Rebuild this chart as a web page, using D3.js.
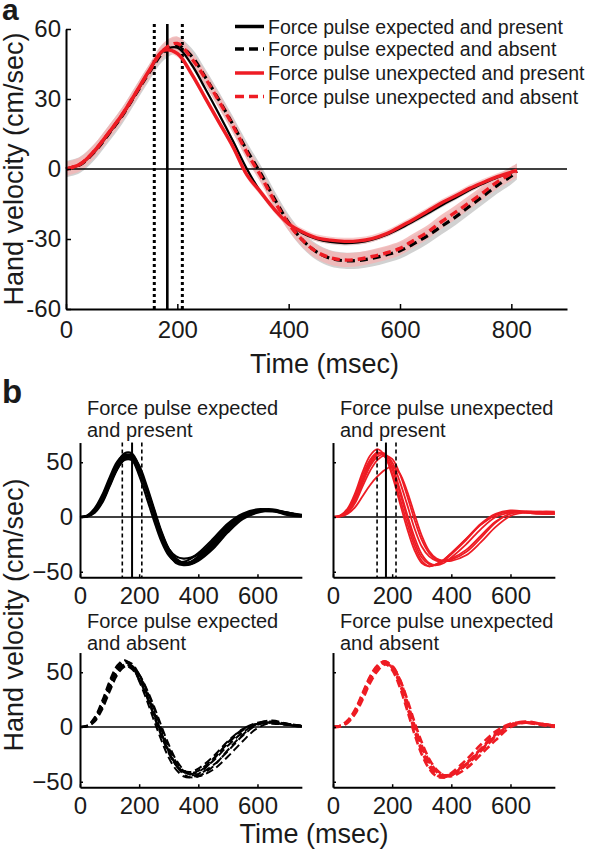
<!DOCTYPE html>
<html><head><meta charset="utf-8">
<script src="https://cdn.jsdelivr.net/npm/d3@7"></script>
<style>
body{margin:0;background:#fff}
svg{display:block}
text{font-family:"Liberation Sans",Arial,Helvetica,sans-serif;fill:#1a1a1a}
</style>
</head><body>
<svg id="chart" width="594" height="852"></svg>
<script>
// ---------- DATA: panel a (mean hand velocity, cm/sec) ----------
const timeA = [0,25,50,75,100,125,150,175,200,225,250,275,300,325,350,375,400,425,450,475,500,525,550,575,600,625,650,675,700,725,750,775,800,810];
const meanExpectedPresent   = [0,1.8,7,14.5,22.5,32,42,50.5,52,45,34.5,23.5,12,0,-10,-17.5,-23.5,-27.5,-30,-31.3,-31.8,-31.5,-30.3,-28.3,-25.5,-22.3,-19,-15.5,-12.3,-9,-6.2,-3.6,-1.5,-0.5];
const meanExpectedAbsent    = [0,1.8,7,14.5,22.5,32,41.5,50,53,48.5,39.5,29.5,19,8,-2,-13,-23,-30.5,-35.5,-38.3,-39.3,-39.2,-38.3,-36.8,-35,-32,-28.5,-24.5,-20.5,-16,-11.5,-7,-3,-1];
const meanUnexpectedPresent = [0,2,7.5,15,23,32.5,42.5,50.8,49.5,41,30.5,20,9.5,-2.5,-10,-17.5,-23.5,-27,-29.5,-30.5,-31,-30.8,-29.8,-27.8,-24.7,-21.5,-18,-14.5,-11.5,-8.3,-5.7,-3.3,-1.3,-0.5];
const meanUnexpectedAbsent  = [0,2,7.5,15,23,32.5,42,51,53.8,47.5,39,29,18.5,7,-3,-14,-23.5,-30.5,-35.5,-38,-39,-38.7,-37.5,-36,-34,-30.5,-27,-22.5,-18.5,-14.3,-10,-5.5,-2,-0.8];
const errorHalfWidth = [1.0, 3.5, 1.5, 3.0];   // EP, EA, UP, UA
const legendLabels = ["Force pulse expected and present","Force pulse expected and absent","Force pulse unexpected and present","Force pulse unexpected and absent"];
const pulseWindowA = [158.6, 182, 209];
const xTicksA = [0,200,400,600,800];
const yTicksA = [-60,-30,0,30,60];

// ---------- DATA: panel b (single trials) ----------
const timeB = [0,25,50,75,100,125,150,175,200,225,250,275,300,325,350,375,400,450,500,550,600,650,700,750];
const trialsExpectedPresent = [
 [0,1,6,16,32,46,55,55,43,24,3,-17,-32,-40,-42,-41,-37,-24,-9,2,6,6,3,1],
 [0,0.5,4,13,28,43,53,56,47,29,8,-13,-29,-38,-42,-42,-39,-27,-12,0,5,6,4,1],
 [0,1.5,8,20,36,50,57,53,38,18,-3,-22,-35,-41,-41,-38,-33,-20,-6,3,7,6,2,0.5],
 [0,1,5,14,29,44,52,52,42,24,4,-15,-29,-36,-38,-37,-34,-23,-9,1,5,5,3,1],
 [0,1,7,18,34,48,58,58,46,26,4,-17,-33,-42,-44,-43,-38,-25,-10,1,6,7,4,1.5],
 [0,0.5,5,15,30,45,54,54,44,26,6,-14,-30,-39,-43,-43,-40,-29,-14,-2,4,6,4,2],
 [0,1,6,17,33,47,56,56,45,25,2,-19,-34,-41,-43,-41,-36,-22,-7,2,6,6,3,1],
 [0,1,6,15,30,44,53,54,45,27,6,-15,-31,-39,-42,-42,-38,-26,-11,0,5,6,3,1]
];
const trialsUnexpectedPresent = [
 [0,1.5,8,22,41,56,62,56,38,14,-10,-30,-42,-45,-43,-39,-33,-20,-7,2,5,4,3,3],
 [0,1,5,16,33,48,57,58,47,26,3,-18,-34,-42,-44,-42,-37,-25,-11,0,4,5,4,3],
 [0,0.5,4,13,28,42,52,56,53,40,20,-2,-21,-33,-39,-40,-39,-32,-19,-5,3,5,5,4],
 [0,0.5,3,9,19,29,37,43,46,40,24,3,-17,-31,-38,-40,-40,-35,-23,-9,1,4,5,5],
 [0,1,6,18,35,50,58,56,44,23,0,-22,-37,-43,-44,-40,-34,-21,-7,2,5,4,3,3],
 [0,1,5,15,31,46,55,57,50,33,12,-10,-27,-36,-40,-40,-38,-30,-17,-4,3,5,4,3],
 [0,1,7,20,38,52,59,55,40,18,-5,-26,-40,-45,-43,-39,-33,-20,-6,3,6,5,3,3]
];
const trialsExpectedAbsent = [
 [0,1,7,21,39,53,59,56,45,30,12,-6,-22,-34,-41,-43,-41,-31,-17,-5,3,4,2,0],
 [0,1,6,18,35,50,57,56,48,34,17,-2,-19,-32,-40,-44,-43,-35,-22,-8,2,4,2,1],
 [0,1.5,9,24,42,56,61,56,42,25,6,-12,-28,-39,-45,-46,-43,-30,-14,-2,4,5,3,1],
 [0,0.5,5,16,32,47,55,55,48,35,19,1,-16,-30,-39,-44,-45,-39,-27,-13,-1,4,3,1],
 [0,1,7,20,37,51,57,54,44,29,11,-7,-23,-35,-41,-42,-40,-29,-15,-3,3,3,2,0],
 [0,1,8,22,40,54,60,58,48,32,14,-5,-22,-35,-43,-46,-45,-36,-21,-7,3,6,3,1],
 [0,1,6,19,36,50,56,53,43,28,10,-8,-24,-35,-40,-41,-38,-27,-13,-2,3,4,2,1]
];
const trialsUnexpectedAbsent = [
 [0,1,5,13,27,42,54,59,55,42,22,1,-18,-32,-41,-45,-44,-35,-22,-9,2,4,3,1],
 [0,1,6,15,30,45,56,60,54,40,19,-3,-22,-36,-44,-46,-43,-33,-20,-7,2,4,3,1],
 [0,0.5,4,12,25,40,51,57,55,44,26,5,-14,-29,-39,-44,-45,-38,-25,-12,0,4,3,1],
 [0,1,6,16,31,46,56,58,52,37,16,-6,-25,-38,-45,-46,-42,-30,-16,-4,3,4,2,1],
 [0,1,5,14,28,43,54,59,56,44,24,2,-17,-31,-40,-44,-43,-34,-21,-8,2,5,3,1],
 [0,1,5,14,29,44,55,60,55,41,21,-1,-20,-34,-42,-45,-44,-34,-20,-6,2,4,2,0]
];
const subTitles = [["Force pulse expected","and present"],["Force pulse unexpected","and present"],["Force pulse expected","and absent"],["Force pulse unexpected","and absent"]];
const pulseWindowB = [[143,176,209],[149,179,213]];
const xTicksB = [0,200,400,600];
const yTicksB = [-50,0,50];

// ---------- DRAWING ----------
const svg = d3.select("#chart");
const RED = "#ee1c24", BLACK = "#000";

// ===== Panel a =====
const xA = d3.scaleLinear().domain([0,900]).range([66,567]);
const yA = d3.scaleLinear().domain([-60,60]).range([309,29]);
const gA = svg.append("g");

const seriesA = [
  {v: meanExpectedPresent,   color: BLACK, dash: null,  w: 2.2, band:"#cccccc"},
  {v: meanExpectedAbsent,    color: BLACK, dash: "8,5", w: 3.2, band:"#c9c9c9"},
  {v: meanUnexpectedPresent, color: RED,   dash: null,  w: 3.4, band:"#f6c4c4"},
  {v: meanUnexpectedAbsent,  color: RED,   dash: "8,5", w: 3.4, band:"#f2b6b6"}
];
const lineA = d3.line().x((d,i)=>xA(timeA[i])).y(d=>yA(d)).curve(d3.curveCatmullRom.alpha(0.5));
seriesA.forEach((s,k)=>{
  const h = errorHalfWidth[k];
  const area = d3.area().x((d,i)=>xA(timeA[i])).y0(d=>yA(d-h)).y1(d=>yA(d+h)).curve(d3.curveCatmullRom.alpha(0.5));
  gA.append("path").attr("d",area(s.v)).attr("fill",s.band).attr("opacity",0.85);
});
gA.append("line").attr("x1",xA(0)).attr("x2",xA(900)).attr("y1",yA(0)).attr("y2",yA(0)).attr("stroke","#000").attr("stroke-width",1.6);
pulseWindowA.forEach((t,i)=>{
  gA.append("line").attr("x1",xA(t)).attr("x2",xA(t)).attr("y1",24).attr("y2",yA(-60))
    .attr("stroke","#000").attr("stroke-width", i===1?2.6:3).attr("stroke-dasharray", i===1?null:"3,3");
});
seriesA.forEach(s=>{
  gA.append("path").attr("d",lineA(s.v)).attr("fill","none").attr("stroke",s.color)
    .attr("stroke-width",s.w).attr("stroke-dasharray",s.dash);
});
const axXA = gA.append("g").attr("transform",`translate(0,${yA(-60)})`)
  .call(d3.axisBottom(xA).tickValues(xTicksA).tickSizeInner(-5).tickSizeOuter(0).tickPadding(12).tickFormat(d=>String(d)));
const axYA = gA.append("g").attr("transform",`translate(${xA(0)},0)`)
  .call(d3.axisLeft(yA).tickValues(yTicksA).tickSizeInner(-5).tickSizeOuter(0).tickPadding(5).tickFormat(d=>String(d)));
[axXA,axYA].forEach(a=>{
  a.select(".domain").attr("stroke","#000").attr("stroke-width",2);
  a.selectAll(".tick line").attr("stroke","#000").attr("stroke-width",1.5);
  a.selectAll("text").attr("font-size",24).attr("fill","#1a1a1a").attr("font-family",null);
});
gA.append("text").attr("x",(xA(0)+xA(900))/2+8).attr("y",373).attr("text-anchor","middle").attr("font-size",27).text("Time (msec)");
gA.append("text").attr("transform",`translate(23,${(yA(60)+yA(-60))/2}) rotate(-90)`).attr("text-anchor","middle").attr("font-size",27).text("Hand velocity (cm/sec)");
svg.append("text").attr("x",2).attr("y",20).attr("font-size",30).attr("font-weight","bold").attr("fill","#000").text("a");

// legend
const legRows = [26.5, 49, 73, 96.5];
seriesA.forEach((s,i)=>{
  gA.append("line").attr("x1",235).attr("x2",264).attr("y1",legRows[i]).attr("y2",legRows[i])
    .attr("stroke",s.color).attr("stroke-width",3.5).attr("stroke-dasharray", s.dash ? "9,5" : null);
  gA.append("text").attr("x",268).attr("y",legRows[i]+7).attr("font-size",19.5).text(legendLabels[i]);
});

// ===== Panel b =====
svg.append("text").attr("x",2).attr("y",403).attr("font-size",33).attr("font-weight","bold").attr("fill","#000").text("b");
const subDefs = [
  {x0:80,  zeroY:517, trials:trialsExpectedPresent,   color:BLACK, dash:null,  w:2.2, win:pulseWindowB[0], ylab:true},
  {x0:333, zeroY:517, trials:trialsUnexpectedPresent, color:RED,   dash:null,  w:1.8, win:pulseWindowB[1], ylab:false},
  {x0:80,  zeroY:727, trials:trialsExpectedAbsent,    color:BLACK, dash:"8,4", w:2.0, win:null, ylab:true},
  {x0:333, zeroY:727, trials:trialsUnexpectedAbsent,  color:RED,   dash:"8,4", w:2.6, win:null, ylab:false}
];
const pxPerUnit = 1.095, pxPerMs = 0.2958;
subDefs.forEach((d,k)=>{
  const x = d3.scaleLinear().domain([0,750]).range([d.x0, d.x0+750*pxPerMs]);
  const y = d3.scaleLinear().domain([-55,68]).range([d.zeroY+55*pxPerUnit, d.zeroY-68*pxPerUnit]);
  const g = svg.append("g");
  const line = d3.line().x((v,i)=>x(timeB[i])).y(v=>y(v)).curve(d3.curveCatmullRom.alpha(0.5));
  g.append("line").attr("x1",x(0)).attr("x2",x(750)).attr("y1",y(0)).attr("y2",y(0)).attr("stroke","#000").attr("stroke-width",1.6);
  d.trials.forEach(tr=>{
    g.append("path").attr("d",line(tr)).attr("fill","none").attr("stroke",d.color)
      .attr("stroke-width",d.w).attr("stroke-dasharray",d.dash);
  });
  if(d.win){
    d.win.forEach((t,i)=>{
      g.append("line").attr("x1",x(t)).attr("x2",x(t)).attr("y1",y(68)).attr("y2",y(-55))
        .attr("stroke","#000").attr("stroke-width", i===1?2:1.6).attr("stroke-dasharray", i===1?null:"4,3");
    });
  }
  const ax = g.append("g").attr("transform",`translate(0,${y(-55)})`)
    .call(d3.axisBottom(x).tickValues(xTicksB).tickSizeInner(-3).tickSizeOuter(0).tickPadding(10));
  const ay = g.append("g").attr("transform",`translate(${x(0)},0)`)
    .call(d3.axisLeft(y).tickValues(yTicksB).tickSizeInner(-3).tickSizeOuter(0).tickPadding(7));
  if(!d.ylab) ay.selectAll("text").remove();
  [ax,ay].forEach(a=>{
    a.select(".domain").attr("stroke","#000").attr("stroke-width",2);
    a.selectAll(".tick line").attr("stroke","#000").attr("stroke-width",1.5);
    a.selectAll("text").attr("font-size",24).attr("fill","#1a1a1a").attr("font-family",null);
  });
  const tx = d.x0 + 7;
  const tb = d.zeroY === 517 ? 415 : 628;
  g.append("text").attr("x",tx).attr("y",tb).attr("font-size",20).text(subTitles[k][0]);
  g.append("text").attr("x",tx).attr("y",tb+22).attr("font-size",20).text(subTitles[k][1]);
});
svg.append("text").attr("x",314).attr("y",843).attr("text-anchor","middle").attr("font-size",27).text("Time (msec)");
svg.append("text").attr("transform","translate(23,615) rotate(-90)").attr("text-anchor","middle").attr("font-size",27).text("Hand velocity (cm/sec)");
</script>
</body></html>
